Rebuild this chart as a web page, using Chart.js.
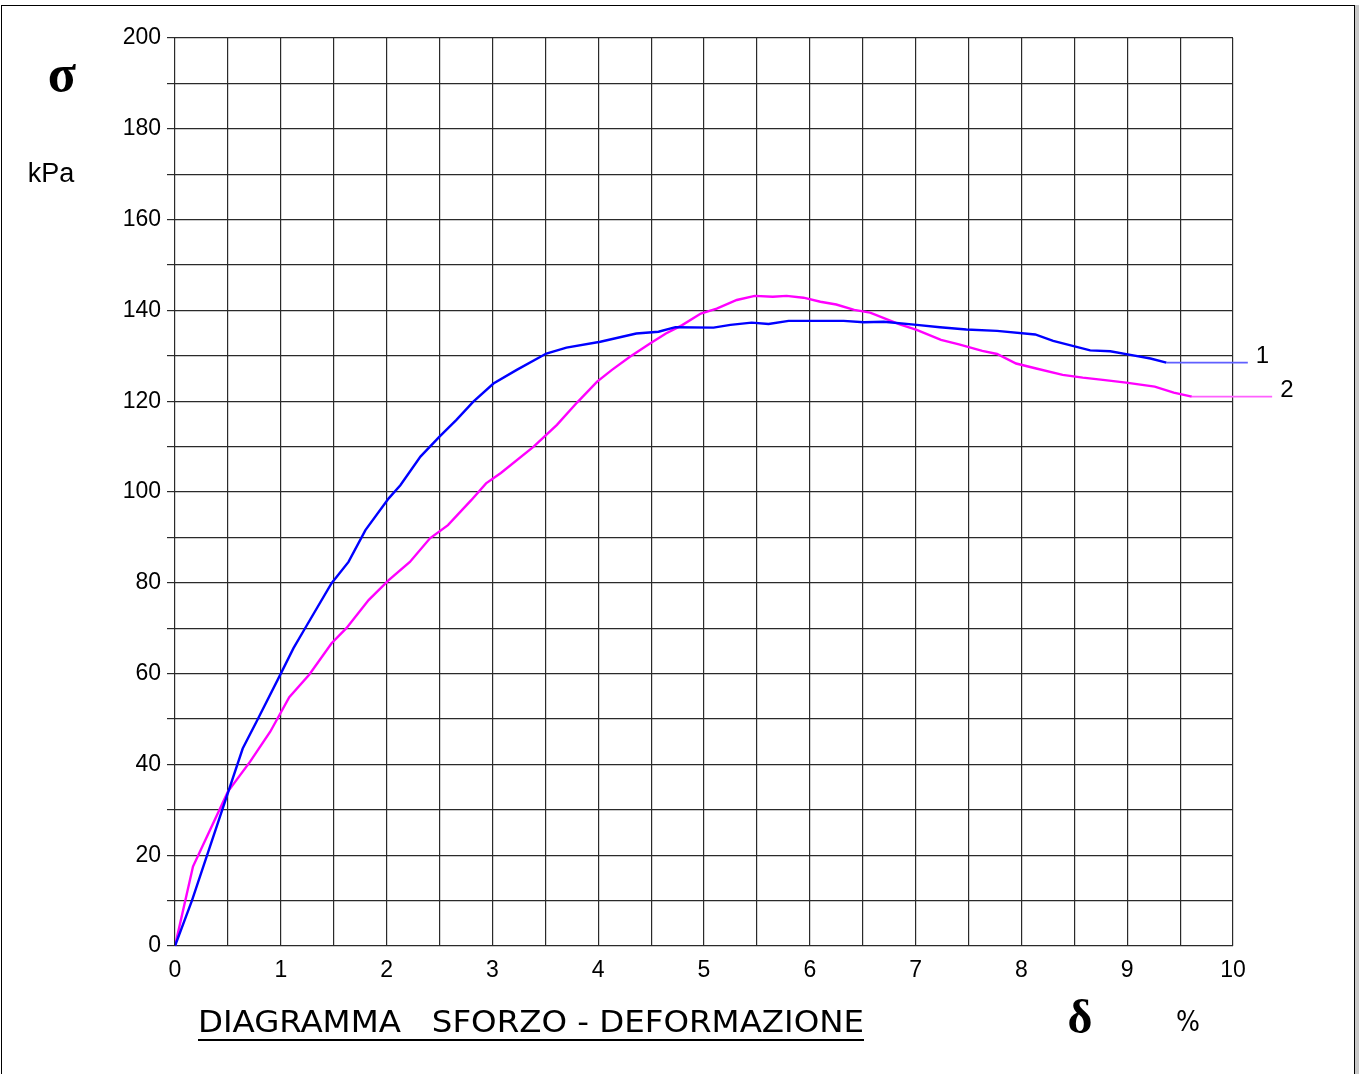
<!DOCTYPE html>
<html>
<head>
<meta charset="utf-8">
<script src="https://cdn.jsdelivr.net/npm/chart.js@4"></script>
<style>
  html, body { margin: 0; padding: 0; background: #fff; }
  #frame {
    position: absolute; left: 1px; top: 5px; width: 1352px; height: 1080px;
    border: 1px solid #000; box-shadow: 4px 0 0 #c8c8c8;
  }
  #wrap { position: absolute; left: 0; top: 0; width: 1359px; height: 1074px; }
</style>
</head>
<body>
<div id="frame"></div>
<div id="wrap"><canvas id="chart"></canvas></div>
<script>
// strain (%) and stress (kPa)
const strain1 = [0, 0.16, 0.64, 0.77, 1.0, 1.12, 1.22, 1.48, 1.64, 1.80, 2.02, 2.13, 2.32, 2.50, 2.66, 2.82, 3.01, 3.23, 3.51, 3.70, 4.02, 4.36, 4.57, 4.73, 5.09, 5.25, 5.45, 5.61, 5.80, 6.06, 6.32, 6.51, 6.70, 7.01, 7.23, 7.48, 7.77, 8.13, 8.30, 8.65, 8.84, 9.03, 9.22, 9.37];
const stress1 = [0, 10, 43.5, 49.4, 60, 65.6, 69.6, 79.9, 84.6, 91.6, 98.6, 101.5, 107.8, 112.2, 115.9, 119.9, 123.9, 126.9, 130.5, 131.8, 133.1, 134.9, 135.3, 136.3, 136.2, 136.8, 137.3, 137.0, 137.7, 137.7, 137.7, 137.4, 137.5, 136.8, 136.3, 135.8, 135.5, 134.7, 133.3, 131.2, 131.0, 130.2, 129.4, 128.5];

const strain2 = [0, 0.17, 0.50, 0.71, 0.90, 1.08, 1.27, 1.48, 1.62, 1.83, 2.02, 2.22, 2.41, 2.58, 2.80, 2.94, 3.08, 3.39, 3.61, 3.80, 3.99, 4.13, 4.30, 4.49, 4.64, 4.79, 4.97, 5.12, 5.31, 5.48, 5.65, 5.78, 5.94, 6.10, 6.25, 6.42, 6.57, 6.85, 7.01, 7.24, 7.41, 7.63, 7.77, 7.95, 8.14, 8.39, 8.58, 8.77, 8.99, 9.26, 9.44, 9.61];
const stress2 = [0, 17.5, 34, 40.6, 47.2, 54.8, 59.8, 66.7, 70, 76.2, 80.6, 84.6, 89.8, 92.7, 98.2, 101.9, 104.2, 110, 114.8, 119.7, 124.3, 126.9, 129.8, 132.7, 134.9, 136.7, 139.3, 140.4, 142.3, 143.2, 143.0, 143.2, 142.8, 141.9, 141.3, 140.1, 139.5, 136.9, 135.7, 133.5, 132.5, 131.1, 130.4, 128.3, 127.2, 125.8, 125.2, 124.7, 124.1, 123.2, 121.9, 121.0];

const seriesNames = ['1', '2'];
const leaderEnd = [10.14, 10.37];   // where the label leader lines stop (in % units)

const pts = (xs, ys) => xs.map((x, i) => ({x: x, y: ys[i]}));
const leader = (xs, ys, end) => [{x: xs[xs.length - 1], y: ys[ys.length - 1]}, {x: end, y: ys[ys.length - 1]}];

const textPlugin = {
  id: 'texts',
  afterDraw(chart) {
    const c = chart.ctx;
    const xs = chart.scales.x, ys = chart.scales.y;
    c.save();
    c.fillStyle = '#000';
    c.textBaseline = 'middle';

    // series labels at the end of the leaders
    c.font = '24px "Liberation Sans", Arial, sans-serif';
    c.textAlign = 'left';
    [[stress1, 0], [stress2, 1]].forEach(([s, i]) => {
      c.fillText(seriesNames[i], xs.getPixelForValue(leaderEnd[i]) + 8, ys.getPixelForValue(s[s.length - 1]) - 6);
    });

    c.textAlign = 'center';
    c.font = 'bold 52px "Liberation Serif", "DejaVu Serif", serif';
    c.fillText('σ', 62, 78);
    c.font = '27px "Liberation Sans", Arial, sans-serif';
    c.fillText('kPa', 51, 175);
    c.font = 'bold 48px "Liberation Serif", "DejaVu Serif", serif';
    c.fillText('δ', 1080, 1021);
    c.font = '28px "DejaVu Sans Condensed", "DejaVu Sans", sans-serif';
    c.fillText('%', 1188, 1024);

    // title, fitted to the reference width and underlined
    const title = 'DIAGRAMMA   SFORZO - DEFORMAZIONE';
    c.font = '31px "DejaVu Sans Condensed", "DejaVu Sans", sans-serif';
    const w = c.measureText(title).width;
    c.save();
    c.translate(198, 1024);
    c.scale(666 / w, 1);
    c.textAlign = 'left';
    c.fillText(title, 0, 0);
    c.restore();
    c.fillRect(198, 1039, 666, 2);
    c.restore();
  }
};

new Chart(document.getElementById('chart'), {
  type: 'line',
  data: {
    datasets: [
      { data: pts(strain1, stress1), borderColor: '#0000ff', borderWidth: 2.4, pointRadius: 0, tension: 0 },
      { data: pts(strain2, stress2), borderColor: '#ff00ff', borderWidth: 2.4, pointRadius: 0, tension: 0 },
      { data: leader(strain1, stress1, leaderEnd[0]), borderColor: '#6060ff', borderWidth: 1.6, pointRadius: 0, clip: false },
      { data: leader(strain2, stress2, leaderEnd[1]), borderColor: '#ff60ff', borderWidth: 1.6, pointRadius: 0, clip: false }
    ]
  },
  options: {
    responsive: true,
    maintainAspectRatio: false,
    animation: false,
    layout: { padding: { left: 0, top: 38, right: 126, bottom: 0 } },
    plugins: { legend: { display: false }, tooltip: { enabled: false } },
    scales: {
      x: {
        type: 'linear', min: 0, max: 10,
        afterFit: s => { s.height = 128; },
        border: { display: false },
        grid: { color: '#2a2a2a', lineWidth: 1.2, drawTicks: false },
        ticks: {
          stepSize: 0.5, padding: 11, maxRotation: 0, autoSkip: false,
          color: '#000', font: { family: '"Liberation Sans", Arial, sans-serif', size: 23 },
          callback: v => Number.isInteger(v) ? String(v) : ''
        }
      },
      y: {
        type: 'linear', min: 0, max: 200,
        afterFit: s => { s.width = 175; },
        border: { display: false },
        grid: { color: '#2a2a2a', lineWidth: 1.2, tickLength: 8 },
        ticks: {
          stepSize: 10, padding: 6, autoSkip: false,
          color: '#000', font: { family: '"Liberation Sans", Arial, sans-serif', size: 23 },
          callback: v => v % 20 === 0 ? String(v) : ''
        }
      }
    }
  },
  plugins: [textPlugin]
});
</script>
</body>
</html>
